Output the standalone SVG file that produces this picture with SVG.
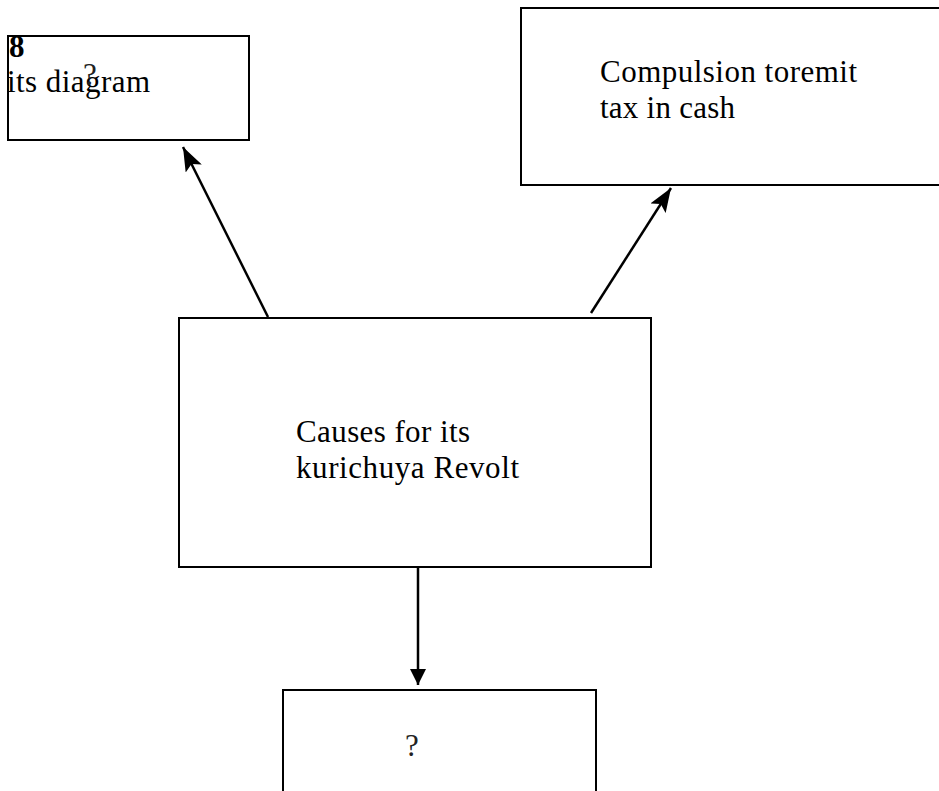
<svg xmlns="http://www.w3.org/2000/svg" width="939" height="791" viewBox="0 0 939 791">
<style>
.box{fill:#fff;stroke:#000;stroke-width:2}
.t{font-family:"Liberation Serif","Times New Roman",serif;font-size:31px;fill:#000}
.b{font-weight:bold}
.q{fill:#222}
.ln{stroke:#000;stroke-width:2.5;fill:none}
</style>
<defs>
<marker id="ahd" markerUnits="userSpaceOnUse" markerWidth="26" markerHeight="18" refX="24" refY="9" orient="auto">
<path d="M0,0 L24,9 L0,18 L5,9 Z" fill="#000"/>
</marker>
<marker id="ahv" markerUnits="userSpaceOnUse" markerWidth="18" markerHeight="16" refX="16" refY="8" orient="auto">
<path d="M0,0 L16,8 L0,16 Z" fill="#000"/>
</marker>
</defs>
<rect width="939" height="791" fill="#fff"/>
<g id="node-diagram">
<rect class="box" x="8" y="36" width="241" height="104"/>
<text class="t b" x="9" y="57">8</text>
<text class="t" x="7" y="92" textLength="143">its diagram</text>
<text class="t q" x="83" y="85">?</text>
</g>
<g id="node-compulsion">
<rect class="box" x="521" y="8" width="430" height="177"/>
<text class="t" x="600" y="82" textLength="257">Compulsion toremit</text>
<text class="t" x="600" y="118" textLength="135">tax in cash</text>
</g>
<g id="node-causes">
<rect class="box" x="179" y="318" width="472" height="249"/>
<text class="t" x="296" y="442" textLength="174">Causes for its</text>
<text class="t" x="296" y="478" textLength="223">kurichuya Revolt</text>
</g>
<g id="node-unknown">
<rect class="box" x="283" y="690" width="313" height="130"/>
<text class="t q" x="405" y="756">?</text>
</g>
<g id="connectors">
<line class="ln" x1="268" y1="317" x2="183" y2="147" marker-end="url(#ahd)"/>
<line class="ln" x1="591" y1="313" x2="671" y2="188" marker-end="url(#ahd)"/>
<line class="ln" x1="418" y1="568" x2="418" y2="685" marker-end="url(#ahv)"/>
</g>
</svg>
